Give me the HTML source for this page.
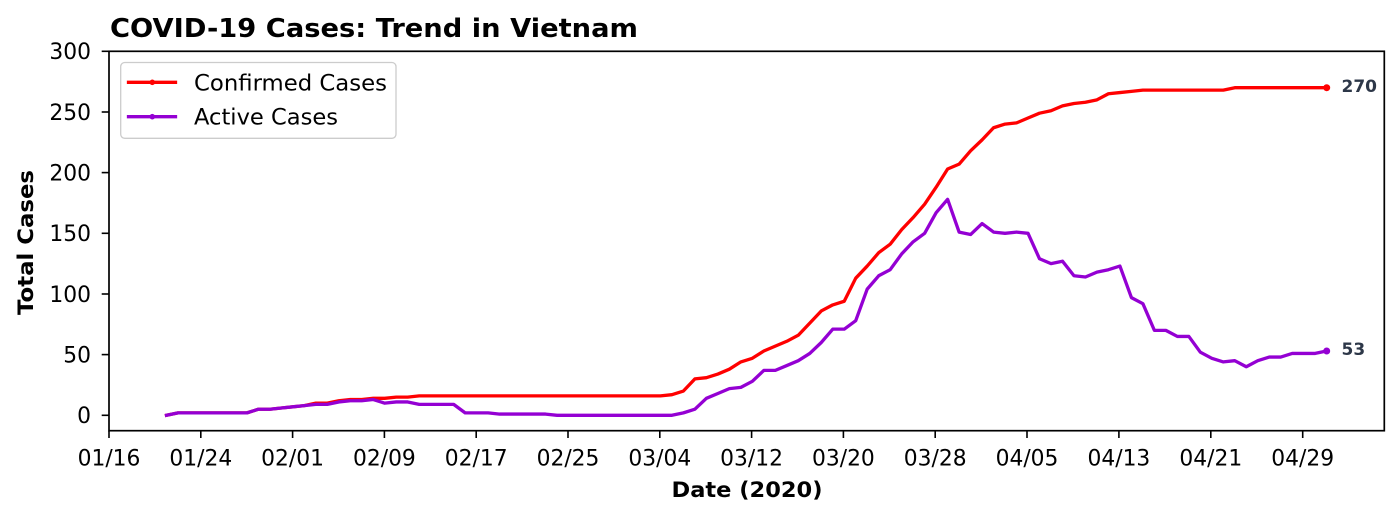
<!DOCTYPE html>
<html>
<head>
<meta charset="utf-8">
<style>
html,body{margin:0;padding:0;background:#fff;}
svg{display:block;}
text{font-family:"DejaVu Sans","Liberation Sans",sans-serif;fill:#000;}
.b{font-weight:bold;}
</style>
</head>
<body>
<svg width="1400" height="519" viewBox="0 0 1400 519" xmlns="http://www.w3.org/2000/svg">
<rect x="0" y="0" width="1400" height="519" fill="#fff"/>

<!-- Title -->
<text class="b" x="110" y="37" font-size="26" textLength="528" lengthAdjust="spacingAndGlyphs">COVID-19 Cases: Trend in Vietnam</text>

<!-- Data lines -->
<g transform="translate(166.5,415.3) scale(11.487,-1.21333)" fill="none" stroke-linejoin="round" stroke-linecap="square">
<polyline vector-effect="non-scaling-stroke" stroke="#ff0000" stroke-width="3.3" points="0,0 1,2 7,2 8,5 9,5 10,6 11,7 12,8 13,10 14,10 15,12 16,13 17,13 18,14 19,14 20,15 21,15 22,16 43,16 44,17 45,20 46,30 47,31 48,34 49,38 50,44 51,47 52,53 53,57 54,61 55,66 56,76 57,86 58,91 59,94 60,113 61,123 62,134 63,141 64,153 65,163 66,174 67,188 68,203 69,207 70,218 71,227 72,237 73,240 74,241 75,245 76,249 77,251 78,255 79,257 80,258 81,260 82,265 83,266 84,267 85,268 92,268 93,270 101,270"/>
<polyline vector-effect="non-scaling-stroke" stroke="#9400d3" stroke-width="3.3" points="0,0 1,2 7,2 8,5 9,5 10,6 11,7 12,8 13,9 14,9 15,11 16,12 17,12 18,13 19,10 20,11 21,11 22,9 25,9 26,2 28,2 29,1 33,1 34,0 44,0 45,2 46,5 47,14 48,18 49,22 50,23 51,28 52,37 53,37 54,41 55,45 56,51 57,60 58,71 59,71 60,78 61,104 62,115 63,120 64,133 65,143 66,150 67,167 68,178 69,151 70,149 71,158 72,151 73,150 74,151 75,150 76,129 77,125 78,127 79,115 80,114 81,118 82,120 83,123 84,97 85,92 86,70 87,70 88,65 89,65 90,52 91,47 92,44 93,45 94,40 95,45 96,48 97,48 98,51 100,51 101,53"/>
</g>

<!-- End markers -->
<circle cx="1326.7" cy="87.7" r="3.5" fill="#ff0000"/>
<circle cx="1326.7" cy="351.0" r="3.5" fill="#9400d3"/>

<!-- Annotations -->
<text class="b" x="1341.5" y="91.8" font-size="17" style="fill:#2d3748">270</text>
<text class="b" x="1341.5" y="355.2" font-size="17" style="fill:#2d3748">53</text>

<!-- Spines -->
<rect x="109" y="51.3" width="1275.3" height="379.4" fill="none" stroke="#000" stroke-width="1.7"/>

<!-- Y ticks -->
<g stroke="#000" stroke-width="1.6">
<line x1="101.7" y1="415.3" x2="109" y2="415.3"/>
<line x1="101.7" y1="354.6" x2="109" y2="354.6"/>
<line x1="101.7" y1="294.0" x2="109" y2="294.0"/>
<line x1="101.7" y1="233.3" x2="109" y2="233.3"/>
<line x1="101.7" y1="172.6" x2="109" y2="172.6"/>
<line x1="101.7" y1="112.0" x2="109" y2="112.0"/>
<line x1="101.7" y1="51.3" x2="109" y2="51.3"/>
</g>
<g font-size="21.8" text-anchor="end">
<text x="91" y="423.2">0</text>
<text x="91" y="362.5">50</text>
<text x="91" y="301.9">100</text>
<text x="91" y="241.2">150</text>
<text x="91" y="180.5">200</text>
<text x="91" y="119.9">250</text>
<text x="91" y="59.2">300</text>
</g>

<!-- X ticks -->
<g stroke="#000" stroke-width="1.6">
<line x1="109" y1="430.7" x2="109" y2="438"/>
<line x1="200.8" y1="430.7" x2="200.8" y2="438"/>
<line x1="292.6" y1="430.7" x2="292.6" y2="438"/>
<line x1="384.4" y1="430.7" x2="384.4" y2="438"/>
<line x1="476.2" y1="430.7" x2="476.2" y2="438"/>
<line x1="568.0" y1="430.7" x2="568.0" y2="438"/>
<line x1="659.8" y1="430.7" x2="659.8" y2="438"/>
<line x1="751.6" y1="430.7" x2="751.6" y2="438"/>
<line x1="843.4" y1="430.7" x2="843.4" y2="438"/>
<line x1="935.2" y1="430.7" x2="935.2" y2="438"/>
<line x1="1027.0" y1="430.7" x2="1027.0" y2="438"/>
<line x1="1118.9" y1="430.7" x2="1118.9" y2="438"/>
<line x1="1210.8" y1="430.7" x2="1210.8" y2="438"/>
<line x1="1302.7" y1="430.7" x2="1302.7" y2="438"/>
</g>
<g font-size="21.8" text-anchor="middle">
<text x="109" y="465.5">01/16</text>
<text x="200.8" y="465.5">01/24</text>
<text x="292.6" y="465.5">02/01</text>
<text x="384.4" y="465.5">02/09</text>
<text x="476.2" y="465.5">02/17</text>
<text x="568.0" y="465.5">02/25</text>
<text x="659.8" y="465.5">03/04</text>
<text x="751.6" y="465.5">03/12</text>
<text x="843.4" y="465.5">03/20</text>
<text x="935.2" y="465.5">03/28</text>
<text x="1027.0" y="465.5">04/05</text>
<text x="1118.9" y="465.5">04/13</text>
<text x="1210.8" y="465.5">04/21</text>
<text x="1302.7" y="465.5">04/29</text>
</g>

<!-- Axis labels -->
<text class="b" x="747" y="497" font-size="21.5" text-anchor="middle" textLength="151" lengthAdjust="spacingAndGlyphs">Date (2020)</text>
<text class="b" x="33" y="242.5" font-size="21.5" text-anchor="middle" textLength="145" lengthAdjust="spacingAndGlyphs" transform="rotate(-90 33 242.5)">Total Cases</text>

<!-- Legend -->
<rect x="120.7" y="62.5" width="275.3" height="75.8" rx="4" ry="4" fill="#fff" fill-opacity="0.8" stroke="#cccccc" stroke-width="1.3"/>
<line x1="128.5" y1="82.3" x2="175.5" y2="82.3" stroke="#ff0000" stroke-width="3.3" stroke-linecap="square"/>
<circle cx="152.3" cy="82.3" r="2.8" fill="#ff0000"/>
<line x1="128.5" y1="116.7" x2="175.5" y2="116.7" stroke="#9400d3" stroke-width="3.3" stroke-linecap="square"/>
<circle cx="152.3" cy="116.7" r="2.8" fill="#9400d3"/>
<text x="194" y="90.3" font-size="22.2" textLength="193" lengthAdjust="spacingAndGlyphs">Confirmed Cases</text>
<text x="194" y="124.7" font-size="22.2" textLength="144" lengthAdjust="spacingAndGlyphs">Active Cases</text>
</svg>
</body>
</html>
